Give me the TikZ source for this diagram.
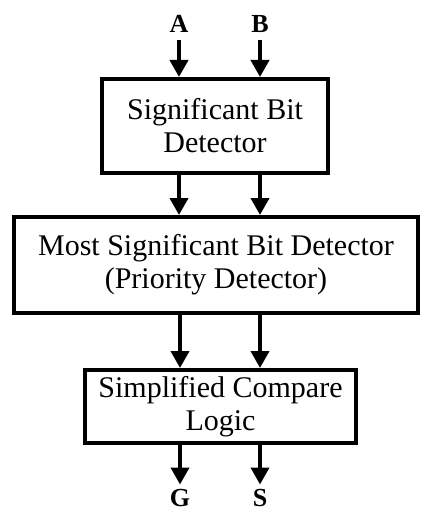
\documentclass[tikz,border=0pt]{standalone}
\usepackage{fontspec}
\setmainfont{Liberation Serif}
\usetikzlibrary{arrows.meta}

\begin{document}
\begin{tikzpicture}[x=1pt,y=-1pt,
    blk/.style={draw,line width=4pt,align=center,inner sep=0pt,
      font=\fontsize{30}{33}\selectfont},
    sig/.style={font=\bfseries\fontsize{26}{28}\selectfont,inner sep=7pt},
    arr/.style={line width=4pt,-{Triangle[length=17pt,width=18pt]}}]
    \useasboundingbox (0,0) rectangle (424,508);
    % blocks
    \node[blk,minimum width=226pt,minimum height=94pt] (sbd) at (215,126) {Significant Bit\\ Detector};
    \node[blk,minimum width=404pt,minimum height=96pt] (msbd) at (216,265) {Most Significant Bit Detector\\ (Priority Detector)};
    \node[blk,minimum width=271pt,minimum height=73pt] (scl) at (220.5,406.5) {Simplified Compare\\ Logic};
    % inputs and outputs
    \node[sig,anchor=south] (a) at (179,40) {A};
    \node[sig,anchor=south] (b) at (260,40) {B};
    \node[sig,anchor=north,inner sep=0.5pt] (g) at (180,488.5) {G};
    \node[sig,anchor=north,inner sep=0.5pt] (s) at (260,488.5) {S};
    \draw[arr] (a.south) -- (a.south |- sbd.north);
    \draw[arr] (b.south) -- (b.south |- sbd.north);
    \draw[arr] (sbd.south -| a.south) -- (msbd.north -| a.south);
    \draw[arr] (sbd.south -| b.south) -- (msbd.north -| b.south);
    \draw[arr] (msbd.south -| g.north) -- (scl.north -| g.north);
    \draw[arr] (msbd.south -| s.north) -- (scl.north -| s.north);
    \draw[arr,shorten >=4pt] (scl.south -| g.north) -- (g.north);
    \draw[arr,shorten >=4pt] (scl.south -| s.north) -- (s.north);
\end{tikzpicture}
\end{document}
